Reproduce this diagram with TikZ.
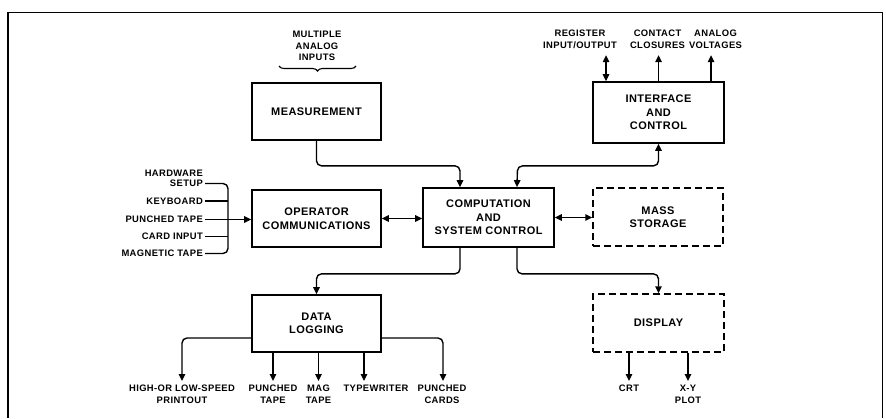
\documentclass[tikz,border=0pt]{standalone}
\usepackage{fontspec}
\newfontfamily\diag{Liberation Sans}[LetterSpace=4]
\usetikzlibrary{arrows.meta,decorations.pathreplacing}
\begin{document}
\begin{tikzpicture}[x=1pt,y=-1pt,
  box/.style={draw, line width=1.7pt, minimum width=129pt, minimum height=57pt,
    font=\diag\bfseries\fontsize{11}{13.5}\selectfont, align=center, inner sep=0pt},
  dbox/.style={box, line width=1.4pt, dash pattern=on 7pt off 4pt},
  lbl/.style={font=\diag\bfseries\fontsize{9.4}{11.8}\selectfont, align=center, inner sep=0pt},
  con/.style={line width=1.4pt, rounded corners=5pt},
  tip/.tip={Triangle[length=7pt,width=6.5pt]},
  arr/.style={con, -tip},
  darr/.style={con, tip-tip}]
\useasboundingbox (0,0) rectangle (886,418);
% frame
\draw[line width=1.6pt] (8,418) -- (8,12.5) -- (882.5,12.5) -- (882.5,418);

% boxes
\node[box] (meas) at (316.5,111.5) {MEASUREMENT};
\node[box] (op) at (316.5,218.5) {OPERATOR\\COMMUNICATIONS};
\node[box, minimum width=131pt, minimum height=59pt] (comp) at (488.5,217.5) {COMPUTATION\\AND\\SYSTEM CONTROL};
\node[dbox, minimum width=130pt, minimum height=58pt] (mass) at (658,217) {MASS\\STORAGE};
\node[box, minimum width=131pt, minimum height=61pt] (intf) at (658.5,112.5) {INTERFACE\\AND\\CONTROL};
\node[box] (log) at (316.5,323.5) {DATA\\LOGGING};
\node[dbox, minimum width=131pt, minimum height=58pt] (disp) at (658.5,323) {DISPLAY};

% multiple analog inputs
\node[lbl] (mai) at (317,46) {MULTIPLE\\ANALOG\\INPUTS};
\coordinate (brR) at (356,66);
\coordinate (brL) at (279,66);
\draw[line width=1.1pt, decorate, decoration={brace, amplitude=5pt, aspect=0.5}] (brR) -- (brL);

% operator inputs
\node[lbl, anchor=east] (hw) at (203,173) {HARDWARE};
\node[lbl, anchor=east] (setup) at (203,183.5) {SETUP};
\node[lbl, anchor=east] (key) at (203,201) {KEYBOARD};
\node[lbl, anchor=east] (ptin) at (203,219.5) {PUNCHED TAPE};
\node[lbl, anchor=east] (card) at (203,236.5) {CARD INPUT};
\node[lbl, anchor=east] (mag) at (203,253.5) {MAGNETIC TAPE};
\coordinate (j) at (228,219.5);
\draw[con] ([xshift=2pt]setup.east) -| (j);
\draw[con] ([xshift=2pt]mag.east) -| (j);
\draw[con] ([xshift=2pt]key.east) -- (key.east -| j);
\draw[con] ([xshift=2pt]card.east) -- (card.east -| j);
\draw[arr] ([xshift=2pt]ptin.east) -- (ptin.east -| op.west);

% interface outputs
\node[lbl] (reg) at (580,39) {REGISTER\\INPUT/OUTPUT};
\node[lbl] (cc) at (657.5,39) {CONTACT\\CLOSURES};
\node[lbl] (av) at (715.5,39) {ANALOG\\VOLTAGES};
\draw[darr] ([xshift=-52.5pt]intf.north) -- ++(0,-26);
\draw[arr] (intf.north) -- ++(0,-26);
\draw[arr] ([xshift=52.5pt]intf.north) -- ++(0,-26);

% central connections
\draw[arr] (meas.south) -- ++(0,25) -| ([xshift=-28.5pt]comp.north);
\draw[darr] (intf.south) |- ++(-141,22) -- ([xshift=28.5pt]comp.north);
\draw[darr] (op.east) -- (op.east -| comp.west);
\draw[darr] (comp.east) -- (comp.east -| mass.west);
\draw[arr] ([xshift=-28.5pt]comp.south) -- ++(0,26) -| (log.north);
\draw[arr] ([xshift=28.5pt]comp.south) -- ++(0,26) -| (disp.north);

% data logging outputs
\node[lbl, anchor=north] (hs) at (182,385) {HIGH-OR LOW-SPEED\\PRINTOUT};
\node[lbl, anchor=north] (ptout) at (273,385) {PUNCHED\\TAPE};
\node[lbl, anchor=north] (mt) at (318.5,385) {MAG\\TAPE};
\node[lbl, anchor=north] (tw) at (376,385) {TYPEWRITER};
\node[lbl, anchor=north] (pc) at (442,385) {PUNCHED\\CARDS};
\draw[arr, shorten >=4pt] ([yshift=-14.5pt]log.west) -| (hs.north);
\draw[arr, shorten >=4pt] (ptout.north |- log.south) -- (ptout.north);
\draw[arr, shorten >=4pt] (mt.north |- log.south) -- (mt.north);
\draw[arr, shorten >=4pt] ([xshift=-12pt]tw.north |- log.south) -- ([xshift=-12pt]tw.north);
\draw[arr, shorten >=4pt] ([yshift=-14.5pt]log.east) -| ([xshift=1pt]pc.north);

% display outputs
\node[lbl, anchor=north] (crt) at (629,385) {CRT};
\node[lbl, anchor=north] (xy) at (688,385) {X-Y\\PLOT};
\draw[arr, shorten >=4pt] (crt.north |- disp.south) -- (crt.north);
\draw[arr, shorten >=4pt] (xy.north |- disp.south) -- (xy.north);
\end{tikzpicture}
\end{document}
